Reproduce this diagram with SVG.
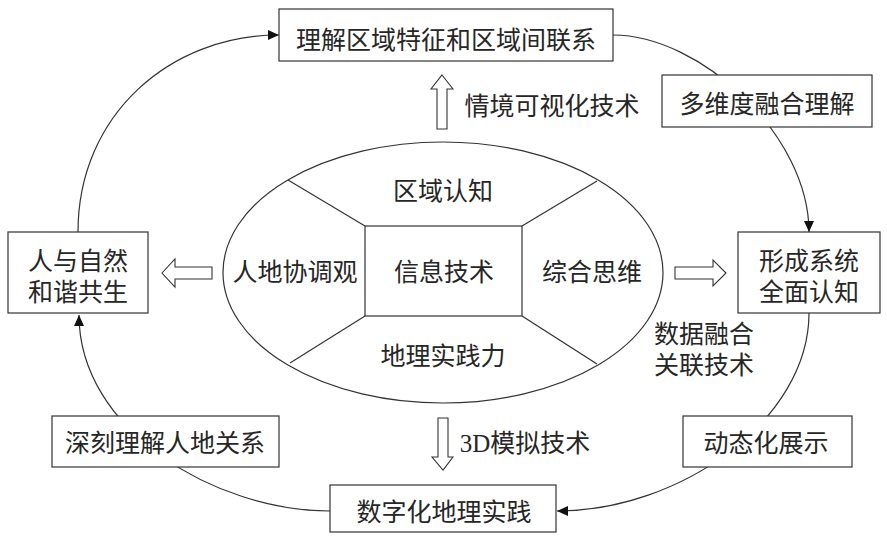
<svg xmlns="http://www.w3.org/2000/svg" width="887" height="539" viewBox="0 0 887 539">
<defs>
<style>
.box{fill:#fff;stroke:#333;stroke-width:1.2}
.ln{fill:none;stroke:#333;stroke-width:1.2}
.ha{fill:#fff;stroke:#333;stroke-width:1.1}
text{font-family:"Liberation Serif","Noto Sans CJK SC",serif;font-size:25px;fill:#262626;text-anchor:middle;dominant-baseline:central}
</style>
<marker id="ah" markerWidth="12" markerHeight="10" refX="11" refY="5" orient="auto" markerUnits="userSpaceOnUse">
<path d="M0,0 L11,5 L0,10 Z" fill="#111"/>
</marker>
</defs>
<rect width="887" height="539" fill="#fff"/>
<g id="connectors">
<path class="ln" d="M78,232 C78,115 170,35 279,35" marker-end="url(#ah)"/>
<path class="ln" d="M613,35 C700,35 809,135 809,232" marker-end="url(#ah)"/>
<path class="ln" d="M809,313 C809,420 680,511 557,511" marker-end="url(#ah)"/>
<path class="ln" d="M330,511 C215,511 79,430 79,315" marker-end="url(#ah)"/>
<polygon class="ha" points="162,273 175,259 175,267 212,267 212,279 175,279 175,287"/>
<polygon class="ha" points="675,267 713,267 713,260 726,273 713,286 713,279 675,279"/>
<polygon class="ha" points="442,75 453,89 447,89 447,129 437,129 437,89 431,89"/>
<polygon class="ha" points="438,418 448,418 448,457 453,457 443,470 432,457 438,457"/>
</g>
<g id="core">
<ellipse class="ln" cx="443" cy="272.5" rx="220" ry="130.5"/>
<rect class="ln" x="365" y="226" width="157" height="90"/>
<line class="ln" x1="365" y1="226" x2="288" y2="180"/>
<line class="ln" x1="522" y1="226" x2="597" y2="181"/>
<line class="ln" x1="365" y1="316" x2="290" y2="363"/>
<line class="ln" x1="522" y1="316" x2="597" y2="364"/>
<text x="443" y="191">区域认知</text>
<text x="444" y="272">信息技术</text>
<text x="295" y="272">人地协调观</text>
<text x="592" y="272">综合思维</text>
<text x="443" y="356">地理实践力</text>
</g>
<g id="n-top">
<rect class="box" x="279" y="9" width="334" height="52"/>
<text x="446" y="40">理解区域特征和区域间联系</text>
</g>
<g id="n-multi">
<rect class="box" x="662" y="75" width="210" height="52"/>
<text x="767" y="104">多维度融合理解</text>
</g>
<g id="n-left">
<rect class="box" x="8" y="232" width="140" height="81"/>
<text x="78" y="261">人与自然</text>
<text x="78" y="292">和谐共生</text>
</g>
<g id="n-right">
<rect class="box" x="738" y="232" width="142" height="81"/>
<text x="809" y="261">形成系统</text>
<text x="809" y="292">全面认知</text>
</g>
<g id="n-deep">
<rect class="box" x="52" y="416" width="227" height="51"/>
<text x="165" y="443">深刻理解人地关系</text>
</g>
<g id="n-dyn">
<rect class="box" x="683" y="416" width="169" height="51"/>
<text x="766" y="443">动态化展示</text>
</g>
<g id="n-bottom">
<rect class="box" x="330" y="485" width="226" height="47"/>
<text x="444" y="512">数字化地理实践</text>
</g>
<g id="labels">
<text x="552" y="106">情境可视化技术</text>
<text x="704" y="334">数据融合</text>
<text x="704" y="365">关联技术</text>
<text x="525" y="443">3D模拟技术</text>
</g>
</svg>
